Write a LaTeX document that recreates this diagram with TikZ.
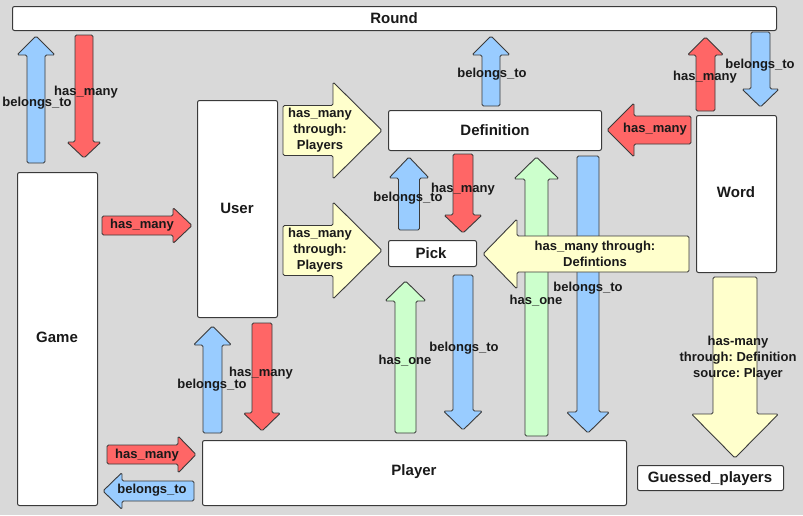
\documentclass[tikz,border=0pt]{standalone}
\usepackage{fontspec}
\setmainfont{Liberation Sans}
\frenchspacing
\definecolor{bg}{HTML}{D9D9D9}
\definecolor{ablue}{HTML}{99CCFF}
\definecolor{ared}{HTML}{FF6666}
\definecolor{agreen}{HTML}{CCFFCC}
\definecolor{ayellow}{HTML}{FFFFCC}
\definecolor{edge}{HTML}{3A3A3A}
\tikzset{
  box/.style={draw=edge, line width=1pt, fill=white, rounded corners=2pt, inner sep=0pt, anchor=north west},
  arr/.style={draw=edge, line width=0.9pt, rounded corners=1.5pt},
  lbl/.style={inner sep=0pt, align=center, font=\frenchspacing\fontsize{13}{16}\selectfont\bfseries, text=black!90},
  blbl/.style={inner sep=0pt, font=\fontsize{15}{18}\selectfont\bfseries, text=black!90},
}
% vertical block arrow: style, cx, shaft half width, head half width, tip y, head base y, tail y
\def\varrow#1#2#3#4#5#6#7{\draw[arr,#1] (#2-#3,#7) -- (#2-#3,#6) -- (#2-#4,#6) -- (#2,#5) -- (#2+#4,#6) -- (#2+#3,#6) -- (#2+#3,#7) -- cycle;}
% horizontal block arrow: style, cy, shaft half height, head half height, tip x, head base x, tail x
\def\harrow#1#2#3#4#5#6#7{\draw[arr,#1] (#7,#2-#3) -- (#6,#2-#3) -- (#6,#2-#4) -- (#5,#2) -- (#6,#2+#4) -- (#6,#2+#3) -- (#7,#2+#3) -- cycle;}
\begin{document}
\begin{tikzpicture}[x=1pt,y=-1pt]
\fill[bg] (0,0) rectangle (803,515);
\useasboundingbox (0,0) rectangle (803,515);

% boxes
\node[box, minimum width=764pt, minimum height=24pt] (round) at (12,6) {};
\node[box, minimum width=80pt, minimum height=333pt] (game) at (17,172) {};
\node[box, minimum width=80pt, minimum height=217pt] (user) at (197,100) {};
\node[box, minimum width=213pt, minimum height=40pt] (definition) at (388,110) {};
\node[box, minimum width=88pt, minimum height=26pt] (pick) at (388,240) {};
\node[box, minimum width=80pt, minimum height=157pt] (word) at (696,115) {};
\node[box, minimum width=424pt, minimum height=65pt] (player) at (202,440) {};
\node[box, minimum width=146pt, minimum height=25pt] (guessed) at (637,465) {};

\node[blbl] (tround) at (394,18.5) {Round};
\node[blbl] (tgame) at (57,337.5) {Game};
\node[blbl] (tuser) at (237,208.5) {User};
\node[blbl] (tdef) at (495,130.5) {Definition};
\node[blbl] (tpick) at (431,253.5) {Pick};
\node[blbl] (tword) at (736,192.5) {Word};
\node[blbl] (tplayer) at (414,471.5) {Player};
\node[blbl] (tguess) at (710,478.5) {Guessed\_players};

% vertical arrows
\varrow{fill=ablue}{36}{9}{19}{36}{55}{163}
\varrow{fill=ared}{84}{9}{17}{158}{142}{35}
\varrow{fill=ablue}{491}{9}{19}{36}{55}{106}
\varrow{fill=ared}{705.5}{9.5}{18}{37}{55}{111}
\varrow{fill=ablue}{760.5}{9.5}{18.5}{107}{89}{32}
\varrow{fill=ablue}{409}{10.5}{20}{157}{178}{230}
\varrow{fill=ared}{463}{10}{19}{233}{215}{154}
\varrow{fill=agreen}{536.5}{11.5}{22.5}{157}{179}{436}
\varrow{fill=ablue}{588}{11}{21.5}{433}{412}{156}
\varrow{fill=agreen}{405.5}{10.5}{20.5}{281}{301}{433}
\varrow{fill=ablue}{463}{10}{19.5}{430}{411}{275}
\varrow{fill=ayellow}{735}{22}{43.5}{458}{414}{277}
\varrow{fill=ablue}{212.5}{9.5}{19}{326}{345}{433}
\varrow{fill=ared}{262}{10}{18.5}{431}{413}{323}

% horizontal arrows
\harrow{fill=ared}{225.5}{9.5}{18}{192}{173}{102}
\harrow{fill=ayellow}{130.5}{25}{48.5}{382}{333}{283}
\harrow{fill=ayellow}{250.5}{25}{48.5}{382}{333}{283}
\harrow{fill=ared}{130}{14}{27}{607}{634}{691}
\harrow{fill=ayellow}{254}{18}{35}{483}{517}{689}
\harrow{fill=ared}{454.5}{9.5}{18.5}{196}{178}{107}
\harrow{fill=ablue}{491}{10}{18.5}{103}{122}{194}

% labels
\node[lbl] (l1) at (37,103.5) {belongs\_to};
\node[lbl] (l2) at (86,92.5) {has\_many};
\node[lbl] (l3) at (142,225.5) {has\_many};
\node[lbl] (l4) at (320,130.5) {has\_many\\through:\\Players};
\node[lbl] (l5) at (320,250.5) {has\_many\\through:\\Players};
\node[lbl] (l6) at (492,74.5) {belongs\_to};
\node[lbl] (l7) at (705,77.5) {has\_many};
\node[lbl] (l8) at (760,65.5) {belongs\_to};
\node[lbl] (l9) at (655,129.5) {has\_many};
\node[lbl] (l10) at (408,198.5) {belongs\_to};
\node[lbl] (l11) at (463,189.5) {has\_many};
\node[lbl] (l12) at (595,253.5) {has\_many through:\\Defintions};
\node[lbl] (l13) at (536,300.5) {has\_one};
\node[lbl] (l14) at (588,288.5) {belongs\_to};
\node[lbl] (l15) at (405,360.5) {has\_one};
\node[lbl] (l16) at (464,348.5) {belongs\_to};
\node[lbl] (l17) at (738,358.5) {has-many\\through: Definition\\source: Player};
\node[lbl] (l18) at (212,385.5) {belongs\_to};
\node[lbl] (l19) at (261,373.5) {has\_many};
\node[lbl] (l20) at (147,455.5) {has\_many};
\node[lbl] (l21) at (152,490.5) {belongs\_to};
\end{tikzpicture}
\end{document}
